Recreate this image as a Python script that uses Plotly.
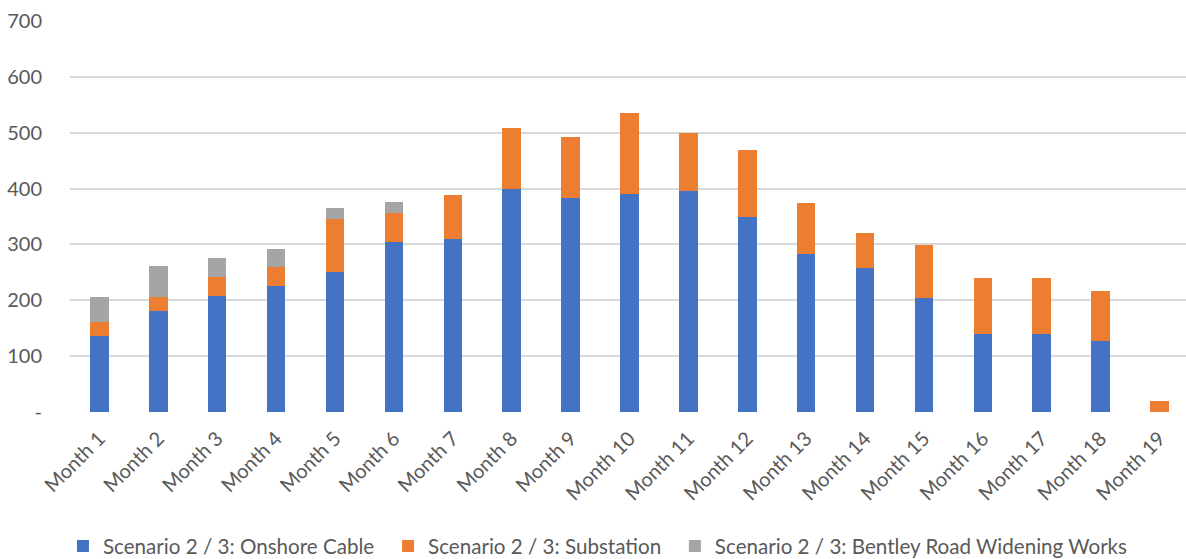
import plotly.graph_objects as go

months = [f"Month {i}" for i in range(1, 20)]
onshore_cable = [136, 180, 207, 226, 250, 305, 309, 400, 383, 391, 395, 349, 283, 257, 204, 140, 140, 128, 0]
substation = [25, 25, 35, 34, 95, 51, 80, 109, 109, 145, 105, 120, 91, 64, 95, 100, 100, 89, 20]
bentley_road = [45, 57, 33, 31, 21, 20, 0, 0, 0, 0, 0, 0, 0, 0, 0, 0, 0, 0, 0]

y_tickvals = [0, 100, 200, 300, 400, 500, 600, 700]
y_ticktext = ["-", "100", "200", "300", "400", "500", "600", "700"]

series = [
    ("Scenario 2 / 3: Onshore Cable", onshore_cable, "#4472C4", "legend"),
    ("Scenario 2 / 3: Substation", substation, "#ED7D31", "legend2"),
    ("Scenario 2 / 3: Bentley Road Widening Works", bentley_road, "#A5A5A5", "legend3"),
]

fig = go.Figure()
for name, vals, color, leg in series:
    fig.add_trace(go.Bar(
        x=list(range(len(months))), y=vals, name=name, legend=leg,
        marker=dict(color=color, line=dict(width=0)),
    ))

font_family = "Lato, 'Open Sans', sans-serif"
TXT = "#595959"

def leg(x):
    return dict(orientation="h", x=x, xanchor="left", y=-0.343, yanchor="middle",
                font=dict(size=20.6, color=TXT), itemwidth=30,
                bgcolor="rgba(0,0,0,0)", borderwidth=0)

fig.update_layout(
    width=1186, height=559,
    barmode="stack", bargap=0.686,
    paper_bgcolor="white", plot_bgcolor="white",
    margin=dict(l=70, r=0, t=21, b=147, autoexpand=False),
    font=dict(family=font_family, size=20, color=TXT),
    showlegend=True,
    legend=leg(-0.0063),
    legend2=leg(0.285),
    legend3=leg(0.542),
    xaxis=dict(
        range=[-0.5, 18.45], automargin=False,
        tickmode="array", tickvals=list(range(len(months))), ticktext=months,
        tickangle=-45, showgrid=False, zeroline=False, showline=False,
        ticks="", tickfont=dict(size=20, color=TXT), ticklabelstandoff=10,
    ),
    yaxis=dict(
        range=[0, 700], automargin=False,
        tickmode="array", tickvals=y_tickvals, ticktext=y_ticktext,
        showgrid=True, gridcolor="#D9D9D9", gridwidth=1.5,
        zeroline=False, showline=False, ticks="", ticklabelstandoff=27,
        tickfont=dict(size=20, color=TXT),
    ),
)

fig.write_html("out.html")
